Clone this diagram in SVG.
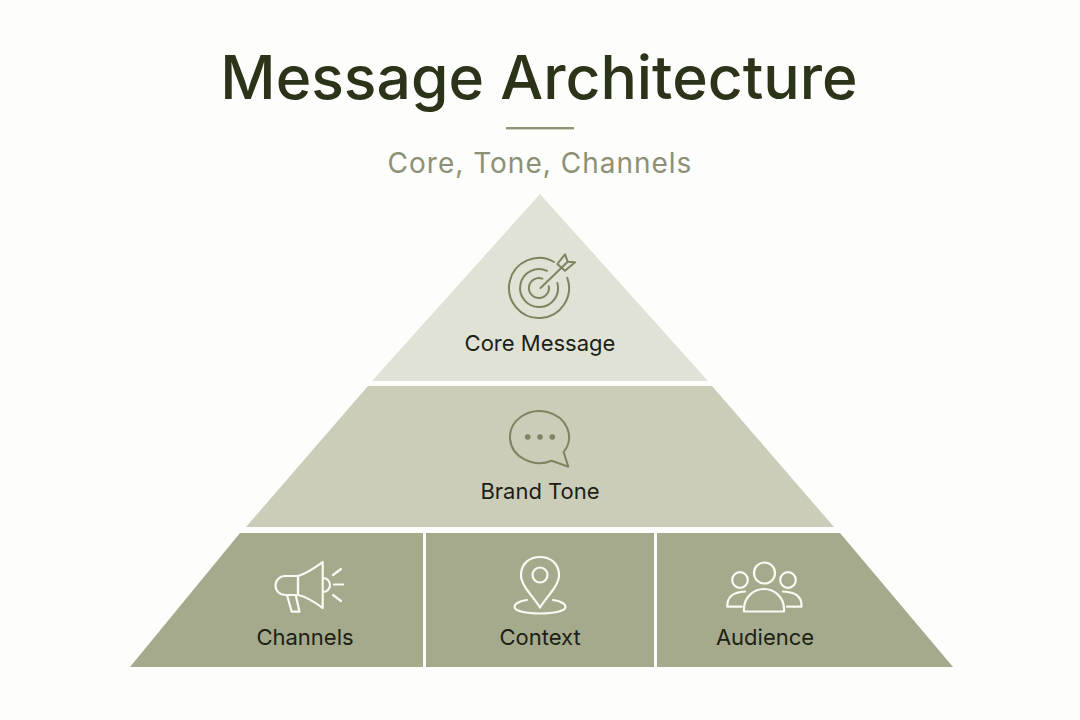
<svg xmlns="http://www.w3.org/2000/svg" width="1080" height="720" viewBox="0 0 1080 720">
<style>
text{font-family:"Inter","Liberation Sans",sans-serif;text-anchor:middle}
.label{font-size:22px;fill:#1d2115}
.dark{fill:none;stroke:#7f8360;stroke-width:2;stroke-linecap:round;stroke-linejoin:round}
.light{fill:none;stroke:#fafaf4;stroke-width:2.2;stroke-linecap:round;stroke-linejoin:round}
</style>
<rect width="1080" height="720" fill="#fdfdfc"/>
<g id="header">
<text x="539" y="99" font-size="60.600" font-weight="500" fill="#2b3318">Message Architecture</text>
<rect x="506" y="127" width="68" height="2.4" fill="#8f9373"/>
<text x="540" y="173" font-size="28" letter-spacing="1" fill="#8c9074">Core, Tone, Channels</text>
</g>
<g id="core-message">
<polygon points="540,194 708,381 372,381" fill="#e0e2d6"/>
<g class="dark">
<path d="M554 262A30 30 0 1 0 567.200 277.700"/>
<path d="M547 270.800A19 19 0 1 0 557.400 283"/>
<path d="M542.400 278.600A10 10 0 1 0 548.800 286.300"/>
<path d="M540.500 288L567.700 261.700"/>
<path d="M557.300 264L565 254.300L567.700 261.700L575 262.300L565 270.700Z"/>
</g>
<text class="label" x="540" y="351">Core Message</text>
</g>
<g id="brand-tone">
<polygon points="368,386 712,386 834,527 246,527" fill="#cbcdb8"/>
<path class="dark" d="M551.700 460.700L568.300 466.700L563.600 452A29.500 26 0 1 0 551.700 460.700Z"/>
<g fill="#7f8360"><circle cx="527.700" cy="437" r="2.800"/><circle cx="540" cy="437" r="2.800"/><circle cx="552.300" cy="437" r="2.800"/></g>
<text class="label" x="540" y="499">Brand Tone</text>
</g>
<g id="channels">
<polygon points="240,533 423,533 423,667 130,667" fill="#a6aa8c"/>
<g class="light">
<path d="M298 576C308 573 316 567 322.700 562V608C316 603 308 597 298 595Z"/>
<path d="M285 576H298V595H285A9.500 9.500 0 0 1 285 576Z"/>
<path d="M287 595L291.700 611.700H299.500L295.700 595"/>
<path d="M323 578A7 7 0 0 1 323 592"/>
<path d="M333 575L341 569M334 584.500H343M333 595L341 601"/>
</g>
<text class="label" x="305" y="645">Channels</text>
</g>
<g id="context">
<rect x="426" y="533" width="228" height="134" fill="#a6aa8c"/>
<g class="light">
<path d="M540 607.500C533 596 521 586 521 575C521 564 529 557 540 557C551 557 559 564 559 575C559 586 547 596 540 607.500Z"/>
<circle cx="540" cy="575" r="7.500"/>
<path d="M527 600C519 601 514.500 604 514.500 607C514.500 611 526 613.500 540 613.500C554 613.500 565.500 611 565.500 607C565.500 604 561 601 553 600"/>
</g>
<text class="label" x="540" y="645">Context</text>
</g>
<g id="audience">
<polygon points="657,533 840,533 953,667 657,667" fill="#a6aa8c"/>
<g class="light">
<circle cx="764.500" cy="573" r="10.500"/>
<path d="M744 611.500H784V609A20 20 0 0 0 744 609Z"/>
<circle cx="740" cy="580" r="7.800"/>
<circle cx="788" cy="580" r="7.800"/>
<path d="M741.700 606.700H727.300C727 597 733 592 745 591.500"/>
<path d="M787 606.700H801.500C802 597 796 592 783 591.500"/>
</g>
<text class="label" x="765" y="645">Audience</text>
</g>
</svg>
